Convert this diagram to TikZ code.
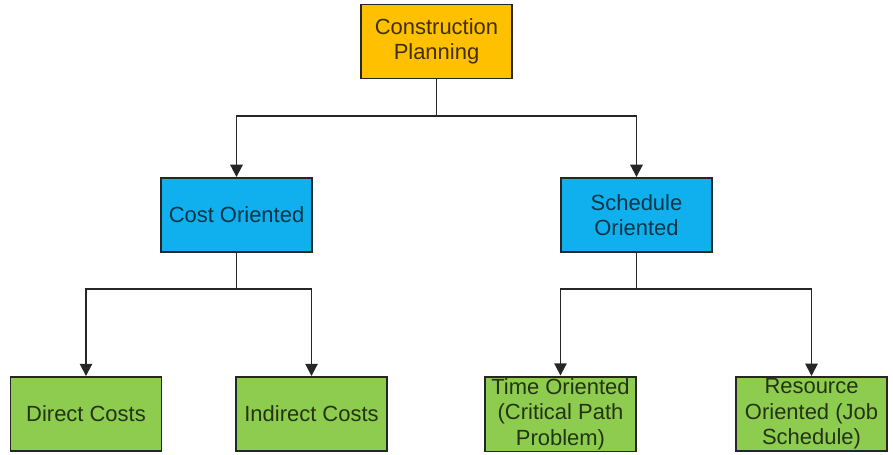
\documentclass[tikz,border=0pt]{standalone}
\usepackage{fontspec}
\setmainfont{Liberation Sans}
\usetikzlibrary{arrows.meta}

\definecolor{planorange}{RGB}{255,192,0}
\definecolor{planblue}{RGB}{16,176,238}
\definecolor{plangreen}{RGB}{142,204,80}

\begin{document}
\begin{tikzpicture}[x=0.02cm, y=-0.02cm,
    box/.style={draw=black!85, line width=1.1pt, minimum width=3.02cm, minimum height=1.48cm,
      align=center, font=\fontsize{12.5}{14.5}\selectfont, inner sep=1pt},
    arr/.style={draw=black!85, line width=1.1pt, -{Triangle[width=7pt,length=7pt]}},
    lin/.style={draw=black!85, line width=1.1pt}]
  \useasboundingbox (0,0) rectangle (893,454);

  \node[box, fill=planorange, text=planorange!25!black] (plan) at (436.5,41.5) {Construction\\Planning};

  \node[box, fill=planblue, text=planblue!30!black] (cost) at (236.5,215) {Cost Oriented};
  \node[box, fill=planblue, text=planblue!30!black] (sched) at (636.5,215) {Schedule\\Oriented};

  \node[box, fill=plangreen, text=plangreen!25!black] (direct) at (86,414) {Direct Costs};
  \node[box, fill=plangreen, text=plangreen!25!black] (indirect) at (311.5,414) {Indirect Costs};
  \node[box, fill=plangreen, text=plangreen!25!black] (time) at (560.5,414) {Time Oriented\\(Critical Path\\Problem)};
  \node[box, fill=plangreen, text=plangreen!25!black] (res) at (811.5,414) {Resource\\Oriented (Job\\Schedule)};

  % level 1
  \draw[arr] (plan.south) -- ++(0,37) -| (cost.north);
  \draw[arr] (plan.south) -- ++(0,37) -| (sched.north);

  % level 2
  \draw[arr] (cost.south) -- ++(0,36) -| (direct.north);
  \draw[arr] (cost.south) -- ++(0,36) -| (indirect.north);
  \draw[arr] (sched.south) -- ++(0,36) -| (time.north);
  \draw[arr] (sched.south) -- ++(0,36) -| (res.north);
\end{tikzpicture}
\end{document}
